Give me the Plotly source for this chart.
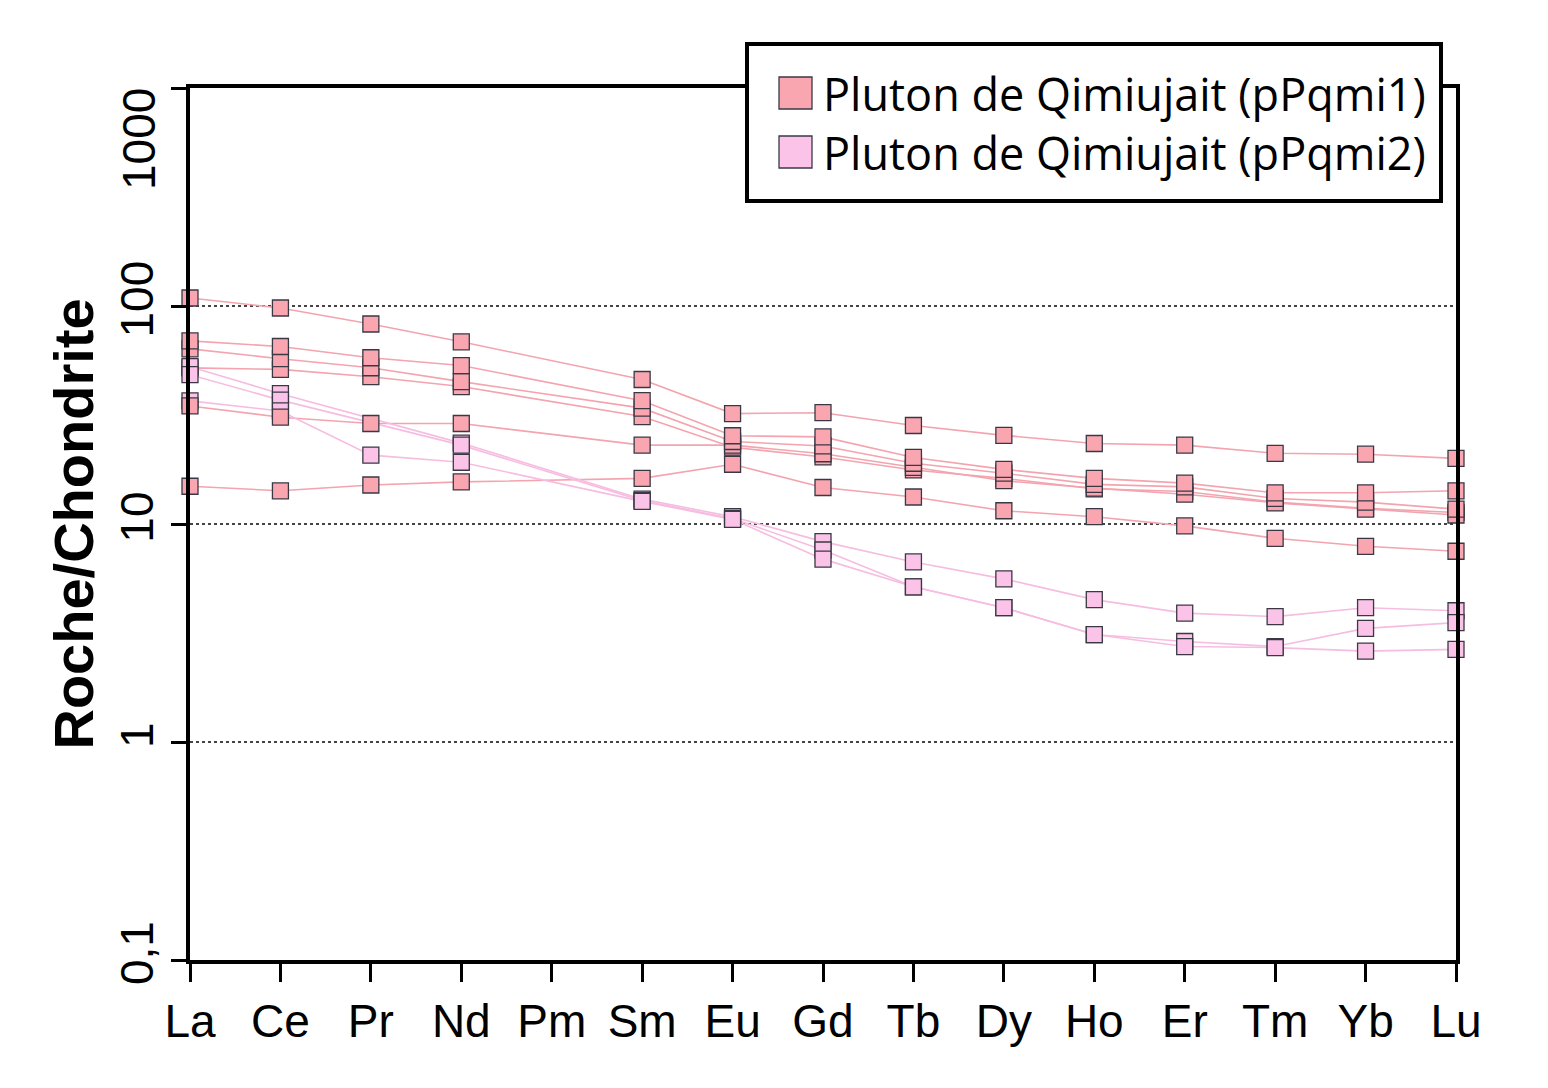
import plotly.graph_objects as go

elements = ["La", "Ce", "Pr", "Nd", "Pm", "Sm", "Eu", "Gd", "Tb", "Dy", "Ho", "Er", "Tm", "Yb", "Lu"]

# Pluton de Qimiujait (pPqmi1) - chondrite-normalised REE
q1_a = [108.8, 97.9, 82.7, 68.5, None, 46.0, 32.1, 32.4, 28.3, 25.5, 23.4, 23.0, 21.1, 20.9, 20.0]
q1_b = [69.2, 65.2, 57.9, 53.3, None, 36.8, 25.4, 25.1, 20.2, 17.8, 16.2, 15.4, 13.9, 13.9, 14.2]
q1_c = [63.6, 57.3, 52.1, 45.0, None, 34.0, 23.9, 22.8, 19.0, 17.1, 15.2, 14.8, 13.1, 12.6, 11.7]
q1_d = [52.0, 51.2, 47.4, 42.7, None, 31.1, 22.5, 20.3, 17.7, 16.2, 14.5, 14.1, 12.6, 11.8, 11.3]
q1_e = [34.8, 30.9, 28.9, 28.9, None, 23.0, 23.0, 21.0, 18.2, 15.8, 14.6, 13.7, 12.5, 11.7, 11.0]
q1_f = [14.9, 14.2, 15.1, 15.6, None, 16.2, 18.8, 14.7, 13.3, 11.5, 10.8, 9.8, 8.6, 7.9, 7.5]

# Pluton de Qimiujait (pPqmi2)
q2_a = [52.7, 39.6, None, 23.5, None, 13.0, 10.8, 8.3, 6.7, 5.6, 4.5, 3.9, 3.76, 4.13, 4.0]
q2_b = [48.4, 37.0, None, 23.0, None, 12.8, 10.6, 7.6, 5.15, 4.13, 3.11, 2.89, 2.74, 3.32, 3.53]
q2_c = [36.7, 33.0, 20.7, 19.2, None, 12.7, 10.5, 6.9, 5.15, 4.13, 3.11, 2.74, 2.71, 2.61, 2.66]

y_tickvals = [0.1, 1, 10, 100, 1000]
y_ticktext = ["0,1", "1", "10", "100", ""]
top_tick_label = "1000"

legend_names = ["Pluton de Qimiujait (pPqmi1)", "Pluton de Qimiujait (pPqmi2)"]

SALMON_FILL = "#F9A6B1"
SALMON_LINE = "#F3A4AE"
PINK_FILL = "#FBC3E8"
PINK_LINE = "#F6BDE1"
EDGE = "#3B3845"

group1 = [q1_a, q1_b, q1_c, q1_d, q1_e, q1_f]
group2 = [q2_a, q2_b, q2_c]

fig = go.Figure()

# lines first (under all squares)
for s in group1:
    fig.add_trace(go.Scatter(x=elements, y=s, mode="lines", connectgaps=True,
                             line=dict(color=SALMON_LINE, width=1.6),
                             showlegend=False, hoverinfo="skip", cliponaxis=False))
for s in group2:
    fig.add_trace(go.Scatter(x=elements, y=s, mode="lines", connectgaps=True,
                             line=dict(color=PINK_LINE, width=1.6),
                             showlegend=False, hoverinfo="skip", cliponaxis=False))


def add_markers(s, fill, name):
    fig.add_trace(go.Scatter(x=elements, y=s, mode="markers", name=name,
                             marker=dict(symbol="square", size=16, color=fill,
                                         line=dict(color=EDGE, width=1.3)),
                             showlegend=False, cliponaxis=False))


add_markers(q1_d, SALMON_FILL, legend_names[0])
for s in group2:
    add_markers(s, PINK_FILL, legend_names[1])
for s in [q1_f, q1_e, q1_c, q1_b, q1_a]:
    add_markers(s, SALMON_FILL, legend_names[0])

L, R, T, B = 190, 92, 88, 128
W, H = 1548, 1088
pw, ph = W - L - R, H - T - B


def px(x):
    return (x - L) / pw


def py(y):
    return (H - B - y) / ph


shapes = [
    dict(type="rect", xref="paper", yref="paper", layer="above",
         x0=px(747), x1=px(1441), y0=py(201), y1=py(44),
         line=dict(color="black", width=4), fillcolor="white"),
    dict(type="rect", xref="paper", yref="paper", layer="above",
         x0=px(779), x1=px(812), y0=py(109), y1=py(77),
         line=dict(color=EDGE, width=1.3), fillcolor=SALMON_FILL),
    dict(type="rect", xref="paper", yref="paper", layer="above",
         x0=px(779), x1=px(812), y0=py(168), y1=py(136),
         line=dict(color=EDGE, width=1.3), fillcolor=PINK_FILL),
]

annotations = [
    dict(text=legend_names[0], xref="paper", yref="paper", x=px(821), y=py(93),
         xanchor="left", yanchor="middle", showarrow=False,
         font=dict(family="Open Sans", size=45, color="black")),
    dict(text=legend_names[1], xref="paper", yref="paper", x=px(821), y=py(152),
         xanchor="left", yanchor="middle", showarrow=False,
         font=dict(family="Open Sans", size=45, color="black")),
    # top tick label, kept inside the figure like the reference
    dict(text=top_tick_label, xref="paper", yref="paper", x=px(139), y=py(139),
         xanchor="center", yanchor="middle", textangle=-90, showarrow=False,
         font=dict(family="Liberation Sans, Arial", size=46, color="black")),
]

fig.update_layout(
    width=W, height=H,
    margin=dict(l=L, r=R, t=T, b=B),
    paper_bgcolor="white", plot_bgcolor="white",
    shapes=shapes, annotations=annotations,
    showlegend=False,
    xaxis=dict(type="category", categoryorder="array", categoryarray=elements,
               range=[0, 14], showgrid=False, zeroline=False, automargin=False,
               showline=True, linecolor="black", linewidth=3.5, mirror=True,
               ticks="outside", ticklen=18, tickwidth=2.5, tickcolor="black",
               tickfont=dict(family="Liberation Sans, Arial", size=46, color="black")),
    yaxis=dict(type="log", range=[-1, 3], tickmode="array",
               tickvals=y_tickvals, ticktext=y_ticktext, tickangle=-90,
               automargin=False,
               showgrid=True, gridcolor="#444444", griddash="dot", gridwidth=1.5,
               zeroline=False,
               showline=True, linecolor="black", linewidth=3.5, mirror=True,
               ticks="outside", ticklen=15, tickwidth=2.5, tickcolor="black",
               tickfont=dict(family="Liberation Sans, Arial", size=46, color="black"),
               title=dict(text="<b>Roche/Chondrite</b>", standoff=0,
                          font=dict(family="Liberation Sans, Arial", size=56, color="black"))),
)

fig.write_html("out.html", config={"displayModeBar": False},
               post_script="document.body.style.margin='0';document.body.style.overflow='hidden';")
